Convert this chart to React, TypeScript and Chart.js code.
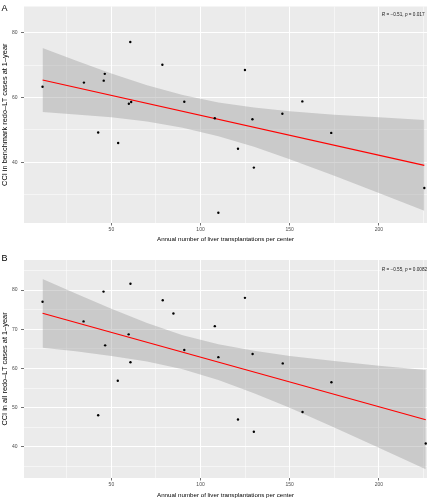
import React, { useEffect, useRef } from 'react';
import { Chart, registerables } from 'chart.js';

Chart.register(...registerables);

const FONT = '"Liberation Sans", Arial, Helvetica, sans-serif';

// ---- shared axis ticks ----
const xMajor = [50, 100, 150, 200];
const xMinor = [25, 75, 125, 175, 225];
const xTitle = 'Annual number of liver transplantations per center';

// ---- Panel A data ----
const aPointsX = [11.4, 34.6, 42.6, 45.7, 46.3, 53.8, 59.8, 61.1, 60.6, 78.6, 90.9, 108.0, 110.0, 121.0, 124.9, 129.1, 129.9, 145.9, 157.1, 173.3, 225.5];
const aPointsY = [63.3, 64.6, 49.2, 65.2, 67.3, 46.0, 58.1, 58.6, 77.1, 70.1, 58.7, 53.6, 24.5, 44.2, 68.5, 53.3, 38.4, 55.0, 58.8, 49.1, 32.1];
const aFitX = [11.4, 225.5];
const aFitY = [65.4, 39.1];
const aBandX = [11.4, 30, 50, 70, 90, 110, 130, 150, 175, 200, 225.5];
const aBandUpper = [75.25, 71.4, 67.4, 63.8, 60.8, 58.5, 56.9, 55.8, 54.7, 53.9, 53.1];
const aBandLower = [55.55, 54.8, 53.9, 52.6, 50.7, 48.1, 44.8, 41.0, 35.9, 30.6, 25.1];
const aYMajor = [40, 60, 80];
const aYMinor = [30, 50, 70];
const aR = '\u22120.51';
const aP = '0.017';
const aYTitle = 'CCI in benchmark redo\u2013LT cases at 1\u2013year';

// ---- Panel B data ----
const bPointsX = [11.4, 34.4, 42.6, 45.6, 46.5, 53.6, 59.7, 60.7, 60.7, 78.8, 84.8, 90.9, 108.0, 110.0, 121.0, 124.9, 129.2, 129.9, 146.1, 157.2, 173.4, 226.3];
const bPointsY = [77.0, 72.0, 48.1, 79.6, 65.9, 56.9, 68.7, 61.6, 81.6, 77.4, 74.0, 64.7, 70.8, 62.9, 47.0, 78.0, 63.7, 43.9, 61.3, 48.9, 56.5, 40.9];
const bFitX = [11.4, 226.3];
const bFitY = [74.07, 46.95];
const bBandX = [11.4, 30, 50, 70, 90, 110, 130, 150, 175, 200, 226.3];
const bBandUpper = [82.8, 79.1, 75.2, 71.6, 68.5, 66.2, 64.5, 63.2, 61.9, 60.7, 59.6];
const bBandLower = [65.3, 64.4, 63.2, 61.8, 59.8, 57.1, 53.7, 50.0, 45.0, 39.8, 34.3];
const bYMajor = [40, 50, 60, 70, 80];
const bYMinor = [35, 45, 55, 65, 75, 85];
const bR = '\u22120.55';
const bP = '0.0082';
const bYTitle = 'CCI in all redo\u2013LT cases at 1\u2013year';

const zip = (xs: number[], ys: number[]) => xs.map((x, i) => ({ x, y: ys[i] }));

interface PanelProps {
  tag: string;
  tagY: number;
  px: number[]; py: number[];
  fx: number[]; fy: number[];
  bx: number[]; bu: number[]; bl: number[];
  yMajor: number[]; yMinor: number[];
  yMin: number; yMax: number;
  r: string; p: string;
  annX: number; annY: number;
  yTitle: string;
  padTop: number;
  xAxisH: number;
  xTitlePad: number;
}

function Panel(props: PanelProps) {
  const ref = useRef<HTMLCanvasElement | null>(null);
  useEffect(() => {
    const canvas = ref.current;
    if (!canvas) return;
    const P = props;
    const isMajorX = (v: number) => xMajor.includes(v);
    const isMajorY = (v: number) => P.yMajor.includes(v);

    const decor = {
      id: 'decor' + P.tag,
      beforeDraw(chart: any) {
        const { ctx, chartArea: a } = chart;
        ctx.save();
        ctx.fillStyle = '#EBEBEB';
        ctx.fillRect(a.left, a.top, a.right - a.left, a.bottom - a.top);
        ctx.restore();
      },
      afterDraw(chart: any) {
        const { ctx } = chart;
        ctx.save();
        ctx.fillStyle = '#000';
        ctx.textBaseline = 'middle';
        ctx.textAlign = 'left';
        ctx.font = `9px ${FONT}`;
        ctx.fillText(P.tag, 1.5, P.tagY);
        const parts: [string, boolean][] = [
          ['R', true], [' = ' + P.r + ', ', false], ['p', true], [' = ' + P.p, false],
        ];
        let cx = P.annX;
        ctx.fillStyle = '#1a1a1a';
        for (const [t, it] of parts) {
          ctx.font = `${it ? 'italic ' : ''}4.7px ${FONT}`;
          ctx.fillText(t, cx, P.annY);
          cx += ctx.measureText(t).width;
        }
        ctx.restore();
      },
    };

    const chart = new Chart(canvas, {
      type: 'scatter',
      data: {
        datasets: [
          {
            label: 'points',
            data: zip(P.px, P.py),
            showLine: false,
            pointRadius: 1.2,
            pointBorderWidth: 0,
            pointBackgroundColor: '#000',
            backgroundColor: '#000',
            order: 0,
          } as any,
          {
            label: 'fit',
            data: zip(P.fx, P.fy),
            showLine: true,
            borderColor: '#FF0000',
            borderWidth: 1.2,
            pointRadius: 0,
            fill: false,
            order: 1,
          } as any,
          {
            label: 'upper',
            data: zip(P.bx, P.bu),
            showLine: true,
            borderWidth: 0,
            borderColor: 'rgba(0,0,0,0)',
            pointRadius: 0,
            backgroundColor: 'rgba(153,153,153,0.4)',
            fill: '+1',
            order: 2,
          } as any,
          {
            label: 'lower',
            data: zip(P.bx, P.bl),
            showLine: true,
            borderWidth: 0,
            borderColor: 'rgba(0,0,0,0)',
            pointRadius: 0,
            fill: false,
            order: 2,
          } as any,
        ],
      },
      options: {
        responsive: false,
        animation: false,
        devicePixelRatio: 1,
        events: [],
        layout: { padding: { left: 0, right: 1, top: P.padTop, bottom: 0 } },
        plugins: {
          legend: { display: false },
          tooltip: { enabled: false },
        },
        scales: {
          x: {
            type: 'linear',
            min: 1,
            max: 227,
            afterBuildTicks: (s: any) => {
              s.ticks = [...xMinor, ...xMajor].sort((a, b) => a - b).map((v) => ({ value: v }));
            },
            afterFit: (s: any) => { s.height = P.xAxisH; },
            border: { display: false },
            grid: {
              color: '#FFFFFF',
              lineWidth: (c: any) => (c.tick && isMajorX(c.tick.value) ? 1 : 0.5),
              tickColor: (c: any) => (c.tick && isMajorX(c.tick.value) ? '#4D4D4D' : 'rgba(0,0,0,0)'),
              tickLength: 2.5,
              tickWidth: 0.8,
            },
            ticks: {
              autoSkip: false,
              maxRotation: 0,
              padding: 1,
              color: '#4D4D4D',
              font: { size: 5, family: FONT },
              callback: (v: any) => (isMajorX(Number(v)) ? String(v) : ''),
            },
            title: {
              display: true,
              text: xTitle,
              color: '#000',
              font: { size: 6.2, family: FONT },
              padding: { top: 0, bottom: P.xTitlePad },
            },
          },
          y: {
            type: 'linear',
            min: P.yMin,
            max: P.yMax,
            afterBuildTicks: (s: any) => {
              s.ticks = [...P.yMinor, ...P.yMajor].sort((a, b) => a - b).map((v) => ({ value: v }));
            },
            afterFit: (s: any) => { s.width = 24; },
            border: { display: false },
            grid: {
              color: '#FFFFFF',
              lineWidth: (c: any) => (c.tick && isMajorY(c.tick.value) ? 1 : 0.5),
              tickColor: (c: any) => (c.tick && isMajorY(c.tick.value) ? '#4D4D4D' : 'rgba(0,0,0,0)'),
              tickLength: 3,
              tickWidth: 0.8,
            },
            ticks: {
              autoSkip: false,
              padding: 3.5,
              color: '#4D4D4D',
              font: { size: 5, family: FONT },
              callback: (v: any) => (isMajorY(Number(v)) ? String(v) : ''),
            },
            title: {
              display: true,
              text: P.yTitle,
              color: '#000',
              font: { size: 7.4, family: FONT },
              padding: { top: 0.5, bottom: 0 },
            },
          },
        },
      } as any,
      plugins: [decor],
    });
    return () => chart.destroy();
  }, []);
  return <canvas ref={ref} width={431} height={250} style={{ display: 'block' }} />;
}

export default function App() {
  return (
    <div style={{ position: 'absolute', left: 0, top: 0, width: 431, height: 500, background: '#FFFFFF' }}>
      <Panel
        tag="A" tagY={8.5}
        px={aPointsX} py={aPointsY}
        fx={aFitX} fy={aFitY}
        bx={aBandX} bu={aBandUpper} bl={aBandLower}
        yMajor={aYMajor} yMinor={aYMinor}
        yMin={21.33} yMax={88.05}
        r={aR} p={aP}
        annX={381.7} annY={15}
        yTitle={aYTitle}
        padTop={5} xAxisH={27} xTitlePad={6.8}
      />
      <Panel
        tag="B" tagY={9}
        px={bPointsX} py={bPointsY}
        fx={bFitX} fy={bFitY}
        bx={bBandX} bu={bBandUpper} bl={bBandLower}
        yMajor={bYMajor} yMinor={bYMinor}
        yMin={32.1} yMax={87.65}
        r={bR} p={bP}
        annX={381.7} annY={19.3}
        yTitle={bYTitle}
        padTop={10} xAxisH={22} xTitlePad={1.3}
      />
    </div>
  );
}
